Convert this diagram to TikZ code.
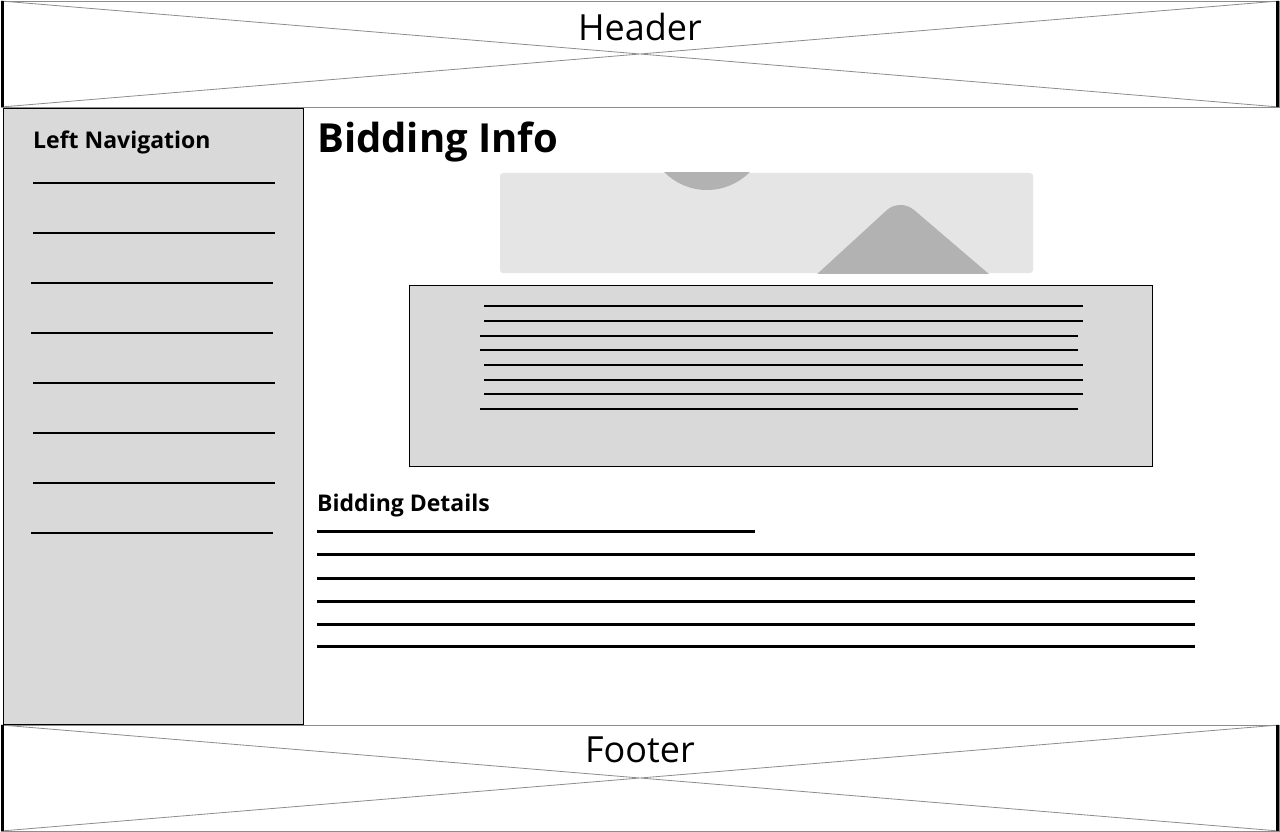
\documentclass[tikz,border=0pt]{standalone}
\usepackage{fontspec}
\setmainfont{Open Sans}
\begin{document}
\begin{tikzpicture}[x=1pt,y=-1pt,
  frame/.style={draw=black!45,line width=0.8pt,fill=white},
  diag/.style={draw=black!45,line width=0.8pt},
  edge/.style={draw=black,line width=3pt},
  navline/.style={draw=black,line width=2pt},
  txtline/.style={draw=black,line width=2.2pt},
  detline/.style={draw=black,line width=3pt}]
\useasboundingbox (0,0) rectangle (1280,832);
\fill[white] (0,0) rectangle (1280,832);
% header
\draw[frame] (1,1) rectangle (1279,107);
\draw[diag] (1,1) -- (1279,107) (1,107) -- (1279,1);
\draw[edge] (2.5,1) -- (2.5,107) (1277.5,1) -- (1277.5,107);
\node[fill=white,inner sep=1pt,font=\fontsize{36}{40}\selectfont] (header) at (640,27) {Header};
% footer
\draw[frame] (1,725) rectangle (1279,831);
\draw[diag] (1,725) -- (1279,831) (1,831) -- (1279,725);
\draw[edge] (2.5,725) -- (2.5,831) (1277.5,725) -- (1277.5,831);
\node[fill=white,inner sep=1pt,font=\fontsize{36}{40}\selectfont] (footer) at (640,750) {Footer};
% left nav
\draw[fill=black!15,draw=black,line width=0.8pt] (3,108) rectangle (303,724);
\node[anchor=west,font=\bfseries\fontsize{23}{27}\selectfont,inner sep=0] (nav) at (33,142) {Left Navigation};
\foreach \y/\a/\b in {183/33/275,233/33/275,283/31/273,333/31/273,383/33/275,433/33/275,483/33/275,533/31/273}
  \draw[navline] (\a,\y) -- (\b,\y);
% title
\node[anchor=west,font=\bfseries\fontsize{40}{44}\selectfont,inner sep=0] (title) at (317,142) {Bidding Info};
% image placeholder
\fill[black!10,rounded corners=3pt] (500,173) rectangle (1033,273);
\begin{scope}
\clip (500,173) rectangle (1033,273);
\fill[black!30] (707,130) circle (60);
\fill[black!30,rounded corners=18pt] (778,310) -- (900,198) -- (1031,310) -- cycle;
\end{scope}
% text box
\draw[fill=black!15,draw=black,line width=0.8pt] (409,285) rectangle (1152,466);
\foreach \y/\a/\b in {306/484/1083,321/484/1083,336/480/1078,350/480/1078,365/484/1083,380/484/1083,394/484/1083,409/480/1078}
  \draw[txtline] (\a,\y) -- (\b,\y);
% details
\node[anchor=west,font=\bfseries\fontsize{23}{27}\selectfont,inner sep=0] (details) at (317,506) {Bidding Details};
\draw[detline] (317,531) -- (755,531);
\foreach \y in {554,578,601,624,646}
  \draw[detline] (317,\y) -- (1195,\y);
\end{tikzpicture}
\end{document}
